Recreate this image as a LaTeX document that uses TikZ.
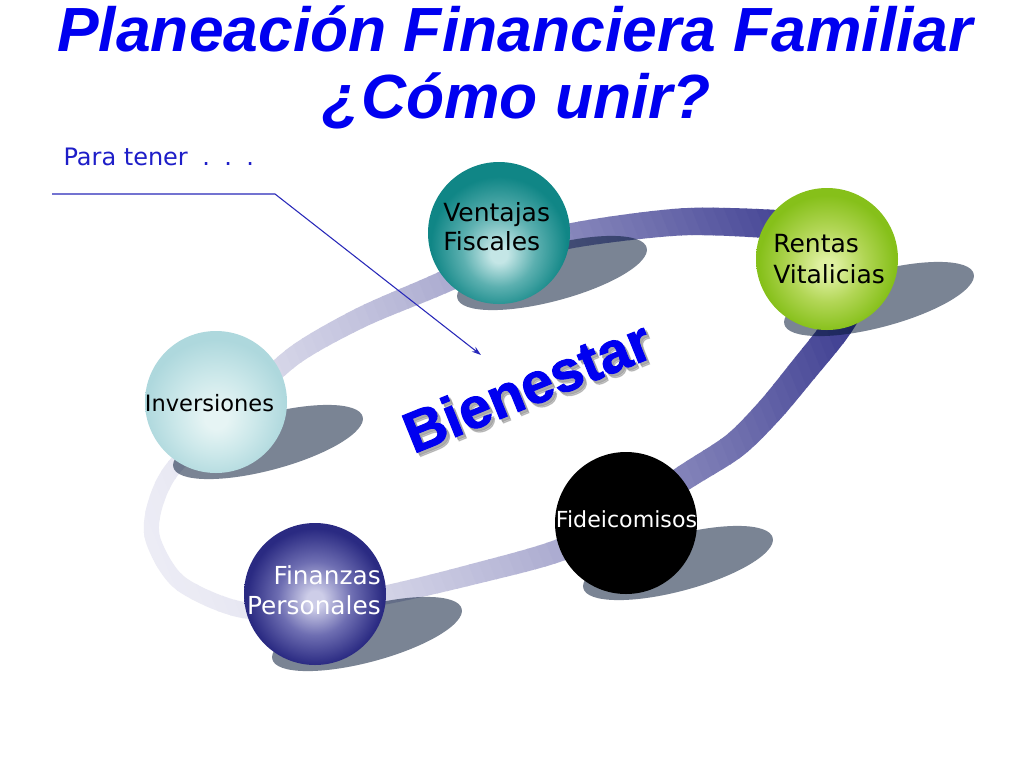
\documentclass[tikz,border=0pt]{standalone}
\usepackage{fontspec}
\setmainfont{DejaVu Sans}
\newfontfamily\arialfont{Liberation Sans}
\newfontfamily\bienfont{Liberation Sans}[BoldFeatures={FakeBold=1.8}]
\usetikzlibrary{arrows.meta}
\definecolor{titleblue}{RGB}{0,0,240}
\definecolor{parablue}{RGB}{30,30,200}
\definecolor{lineblue}{RGB}{40,40,185}
\definecolor{ringL}{RGB}{236,236,245}
\definecolor{ringR}{RGB}{52,52,140}
\definecolor{shadowc}{RGB}{0,20,50}
\definecolor{ventD}{RGB}{16,134,134}
\definecolor{ventM}{RGB}{92,176,176}
\definecolor{ventL}{RGB}{196,230,230}
\definecolor{renD}{RGB}{134,192,26}
\definecolor{renM}{RGB}{178,214,86}
\definecolor{renL}{RGB}{222,240,160}
\definecolor{invD}{RGB}{174,216,221}
\definecolor{invM}{RGB}{204,232,234}
\definecolor{invL}{RGB}{230,244,244}
\definecolor{finD}{RGB}{42,42,130}
\definecolor{finM}{RGB}{110,110,178}
\definecolor{finL}{RGB}{205,205,232}
\pgfdeclareradialshading{ventshade}{\pgfpoint{0bp}{-8bp}}{color(0bp)=(ventL); color(3bp)=(ventL); color(13bp)=(ventM); color(24bp)=(ventD); color(50bp)=(ventD)}
\pgfdeclareradialshading{renshade}{\pgfpoint{0bp}{-3bp}}{color(0bp)=(renL); color(3bp)=(renL); color(13bp)=(renM); color(24bp)=(renD); color(50bp)=(renD)}
\pgfdeclareradialshading{invshade}{\pgfpoint{0bp}{-6bp}}{color(0bp)=(invL); color(4bp)=(invL); color(14bp)=(invM); color(25bp)=(invD); color(50bp)=(invD)}
\pgfdeclareradialshading{finshade}{\pgfpoint{0bp}{-2bp}}{color(0bp)=(finL); color(3bp)=(finL); color(13bp)=(finM); color(24bp)=(finD); color(50bp)=(finD)}
\tikzset{
  sphere/.style={circle, minimum size=106.5pt, inner sep=0pt, draw=none},
  shadowfill/.style={fill=shadowc, fill opacity=0.52},
  lbl/.style={inner sep=0pt, align=left},
  pointer/.style={draw=lineblue, line width=0.8pt, -{Stealth[length=7pt,width=4.5pt]}},
  bien/.style={font=\bienfont\bfseries\fontsize{43pt}{43pt}\selectfont, rotate=22, inner sep=0pt},
  titlest/.style={font=\arialfont\bfseries\itshape\fontsize{46.8pt}{50pt}\selectfont, text=titleblue, inner sep=0pt, anchor=base}
}
\newcommand{\ringcoords}{(153,-540) (180,-583) (243,-610) (320,-606) (390,-594) (470,-575) (560,-550) (625,-515) (690,-474) (735,-445) (770,-410) (803,-370) (835,-330) (852,-300) (856,-268) (838,-243) (805,-229) (770,-224) (680,-222) (570,-236) (500,-258) (430,-288) (360,-318) (295,-355) (240,-405) (175,-466) (155,-505)}
\begin{document}
\begin{tikzpicture}[x=0.75pt,y=0.75pt]
\useasboundingbox (0,0) rectangle (1024,-768);
\fill[white] (0,0) rectangle (1024,-768);
% ring band with gradient along its major axis
\foreach \i in {0,...,79} {
  \pgfmathsetmacro{\xa}{106+10*\i}
  \pgfmathsetmacro{\xb}{\xa+11}
  \pgfmathsetmacro{\f}{max(0,min(1,(10*\i-400+5+380)/760))}
  \pgfmathsetmacro{\w}{(15+15*\f)*0.75}
  \pgfmathsetmacro{\p}{100*(\f^1.5)}
  \begin{scope}
    \clip[rotate around={22:(506,-417)}] (\xa,-1100) rectangle (\xb,300);
    \draw[line width=\w pt, color=ringR!\p!ringL] plot[smooth cycle, tension=0.5] coordinates {\ringcoords};
  \end{scope}
}
% shadows
\foreach \cx/\cy in {552/-273, 879/-299, 268/-442, 678/-563, 367/-634} {
  \fill[shadowfill, rotate around={15:(\cx,\cy)}] (\cx,\cy) ellipse [x radius=73.5pt, y radius=21pt];
}
% spheres
\node[sphere, shade, shading=ventshade] (ven) at (499,-233) {};
\node[sphere, shade, shading=renshade] (ren) at (827,-259) {};
\node[sphere, shade, shading=invshade] (inv) at (216,-402) {};
\node[sphere, fill=black] (fid) at (626,-523) {};
\node[sphere, shade, shading=finshade] (fin) at (315,-594) {};
% labels (base anchor = baseline of the last line)
\node[lbl, anchor=base west, font=\fontsize{18.75pt}{21.75pt}\selectfont] (venL) at (443,-250.7) {Ventajas\\Fiscales};
\node[lbl, anchor=base west, font=\fontsize{18.75pt}{22.7pt}\selectfont] (renL) at (773,-283) {Rentas\\Vitalicias};
\node[lbl, anchor=base, font=\fontsize{16.9pt}{20pt}\selectfont] (invL) at (209.5,-411.7) {Inversiones};
\node[lbl, anchor=base, text=white, font=\fontsize{16.6pt}{20pt}\selectfont] (fidL) at (626.5,-527.3) {Fideicomisos};
\node[inner sep=0pt, align=right, anchor=base east, text=white, font=\fontsize{18.6pt}{22.5pt}\selectfont] (finL) at (381,-614) {Finanzas\\Personales};
% title
\node[titlest] (t1) at (515,-51.7) {Planeación Financiera Familiar};
\node[titlest] (t2) at (517,-118.3) {¿Cómo unir?};
% para tener
\node[inner sep=0pt, anchor=base west, text=parablue, font=\fontsize{18pt}{20pt}\selectfont] (para) at (63.3,-165) {Para tener\hspace{0.6em}.\hspace{0.6em}.\hspace{0.6em}.};
\coordinate (p1) at (52,-194);
\coordinate (p2) at (275,-194);
\coordinate (tip) at (481,-355);
\draw[pointer] (p1) -- (p2) -- (tip);
% Bienestar
\node[bien, text=black!45, opacity=0.45] (bienS2) at (530.5,-390) {Bienestar};
\node[bien, text=black!40, opacity=0.6] (bienS) at (529.5,-388.5) {Bienestar};
\node[bien, text=titleblue] (bienT) at (527,-386) {Bienestar};
\end{tikzpicture}
\end{document}
